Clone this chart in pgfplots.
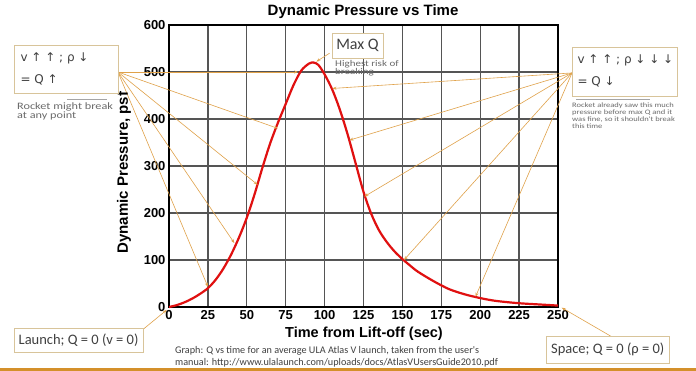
\documentclass[border=0pt]{standalone}
\usepackage{pgfplots}
\pgfplotsset{compat=1.18}
\usetikzlibrary{arrows.meta}
\usepackage{fontspec}
\setmainfont{Liberation Sans}
\newfontfamily\calfont{Carlito}
\newfontfamily\calwide[FakeStretch=1.25]{Carlito}
\newfontfamily\djfont{DejaVu Sans}
\definecolor{qred}{HTML}{E01010}
\definecolor{arrowc}{HTML}{E0A24A}
\definecolor{boxc}{HTML}{D8C49A}
\definecolor{txt}{HTML}{404040}
\definecolor{smalltxt}{HTML}{6A6A6A}
\definecolor{gridc}{HTML}{555555}
\definecolor{barc}{HTML}{D4902A}
\begin{document}
\begin{tikzpicture}
\useasboundingbox (0,0) rectangle (696pt,371pt);
\fill[white] (0,0) rectangle (696pt,371pt);
\begin{axis}[
  at={(169pt,64pt)}, anchor=south west, scale only axis,
  width=389pt, height=282pt,
  xmin=0, xmax=250, ymin=0, ymax=600,
  xtick={0,25,...,250}, ytick={0,100,...,600},
  grid=major, grid style={gridc, line width=1.3pt},
  axis line style={line width=2pt, black},
  major tick length=0pt,
  ticklabel style={font=\fontsize{13}{13}\selectfont\bfseries},
  /pgf/number format/assume math mode=true,
  clip=false,
]
\addplot[qred, line width=2.2pt, smooth] coordinates {
(0,0) (5,4) (10,10) (15,18) (20,28) (25,40) (30,58) (35,82) (40,112) (45,148)
(50,190) (55,240) (60,296) (65,348) (70,392) (75,432) (80,472) (85,503) (90,518)
(93,520) (96,515) (100,495) (105,462) (110,418) (115,365) (120,305) (125,245)
(130,198) (135,163) (140,138) (145,118) (150,102) (155,88) (160,75) (170,55)
(180,38) (190,27) (200,19) (210,13) (225,8) (240,5) (250,3)
};
% arrows
\begin{scope}[arrowc, line width=0.6pt, -{Stealth[length=4pt,width=3pt]}]
\draw (axis cs:-32.8,500) -- (axis cs:83,500);
\draw (axis cs:-32.8,500) -- (axis cs:70,380);
\draw (axis cs:-32.8,500) -- (axis cs:57,260);
\draw (axis cs:-32.8,500) -- (axis cs:42,136);
\draw (axis cs:-32.8,500) -- (axis cs:25,43);
\draw (axis cs:259,498) -- (axis cs:105,465);
\draw (axis cs:259,498) -- (axis cs:116,355);
\draw (axis cs:259,498) -- (axis cs:125.6,235);
\draw (axis cs:259,498) -- (axis cs:151,100);
\draw (axis cs:259,498) -- (axis cs:197,22);
\draw (axis cs:103.2,540) -- (axis cs:94.7,522);
\draw (axis cs:-16.6,-47.4) -- (axis cs:-1.5,-6.4);
\draw (axis cs:284.5,-63.2) -- (axis cs:252.4,-1.5);
\end{scope}
% title and labels
\node[font=\fontsize{15}{15}\selectfont\bfseries] at (axis cs:124.7,628) {Dynamic Pressure vs Time};
\node[font=\fontsize{14.5}{14.5}\selectfont\bfseries] at (axis cs:125.3,-57.4) {Time from Lift-off (sec)};
\node[font=\fontsize{15}{15}\selectfont\bfseries, rotate=90] at (axis cs:-28.9,286) {Dynamic Pressure, psf};
\end{axis}
\begin{scope}[yshift=371pt, yscale=-1]
% left box
\draw[boxc, line width=0.8pt, fill=white] (14pt,45pt) rectangle (118pt,93pt);
\node[anchor=west, txt, font=\djfont\fontsize{12}{12}\selectfont] at (17pt,58pt) {v ↑ ↑ ; ρ ↓};
\node[anchor=west, txt, font=\djfont\fontsize{12}{12}\selectfont] at (17pt,80pt) {= Q ↑};
\draw[smalltxt!60, line width=0.6pt] (67pt,99pt) -- (107pt,99pt);
\node[anchor=north west, smalltxt, align=left, inner sep=0pt, font=\calwide\fontsize{9.8}{8.5}\selectfont] at (17pt,103pt) {Rocket might break\\at any point};
% right box
\draw[boxc, line width=0.8pt, fill=white] (572pt,47pt) rectangle (677pt,96pt);
\node[anchor=west, txt, font=\djfont\fontsize{12}{12}\selectfont] at (574pt,60pt) {v ↑ ↑ ; ρ ↓ ↓ ↓};
\node[anchor=west, txt, font=\djfont\fontsize{12}{12}\selectfont] at (574pt,82pt) {= Q ↓};
\draw[smalltxt!60, line width=0.6pt] (576pt,99pt) -- (650pt,99pt);
\node[anchor=north west, smalltxt, align=left, inner sep=0pt, font=\calwide\fontsize{6.8}{7}\selectfont] at (572pt,103pt) {Rocket already saw this much\\pressure before max Q and it\\was fine, so it shouldn't break\\this time};
% Max Q box
\draw[boxc, line width=0.8pt, fill=white] (332pt,33pt) rectangle (383pt,58pt);
\node[txt, font=\calfont\fontsize{16}{16}\selectfont] at (357.5pt,45.5pt) {Max Q};
\node[anchor=north west, smalltxt, align=left, inner sep=0pt, font=\calwide\fontsize{8.8}{7.8}\selectfont] at (335pt,60pt) {Highest risk of\\breaking};
% Launch box
\draw[boxc, line width=0.8pt, fill=white] (14pt,328.3pt) rectangle (143.3pt,352.7pt);
\node[txt, font=\calfont\fontsize{14.5}{14.5}\selectfont] at (78.6pt,340.5pt) {Launch; Q = 0 (v = 0)};
% Space box
\draw[boxc, line width=0.8pt, fill=white] (546pt,336.7pt) rectangle (669.3pt,363.3pt);
\node[txt, font=\calfont\fontsize{14.5}{14.5}\selectfont] at (607.7pt,349.5pt) {Space; Q = 0 (ρ = 0)};
% caption
\node[anchor=west, txt, inner sep=0pt, font=\calfont\fontsize{10.2}{10.2}\selectfont] at (175pt,350.7pt) {Graph: Q vs time for an average ULA Atlas V launch, taken from the user's};
\node[anchor=west, txt, inner sep=0pt, font=\calfont\fontsize{10.2}{10.2}\selectfont] at (175pt,362.3pt) {manual: http://www.ulalaunch.com/uploads/docs/AtlasVUsersGuide2010.pdf};
\end{scope}
\fill[barc] (0,0) rectangle (696pt,2.5pt);
\end{tikzpicture}
\end{document}
